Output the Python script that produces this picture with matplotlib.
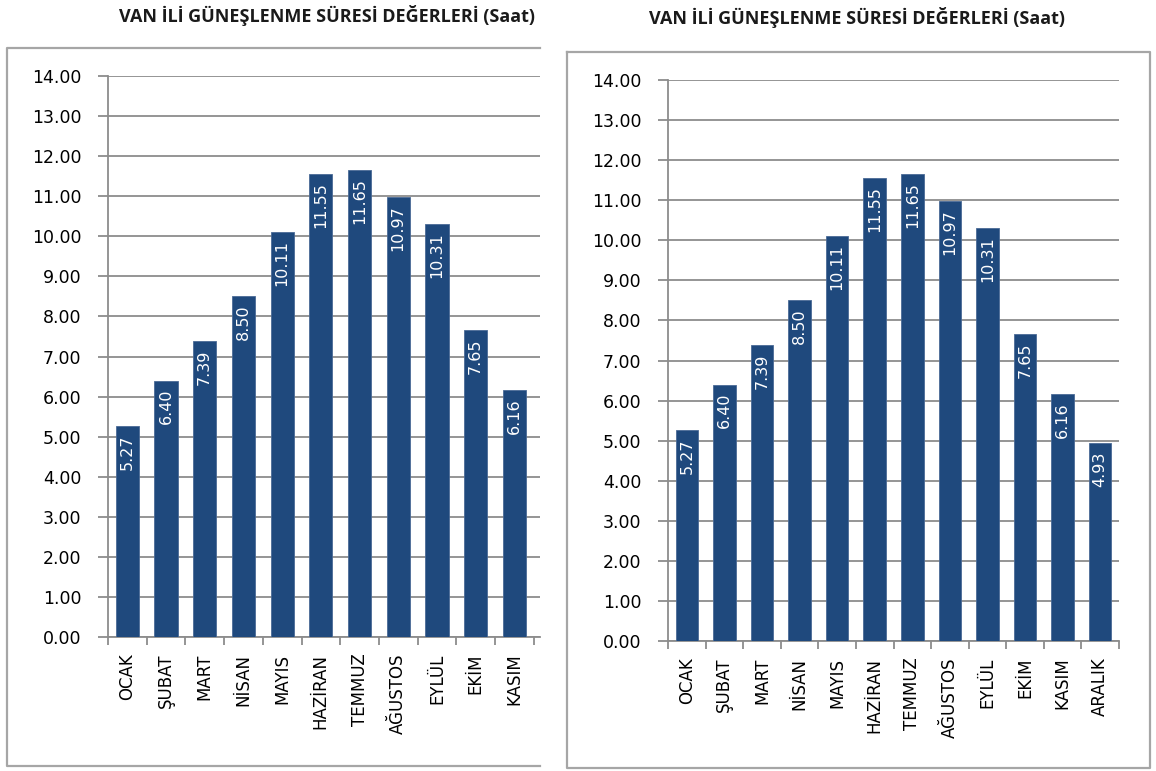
import numpy as np
import matplotlib.pyplot as plt
from matplotlib.lines import Line2D
from matplotlib.ticker import FixedLocator, FormatStrFormatter

# data
months = ["OCAK", "ŞUBAT", "MART", "NİSAN", "MAYIS", "HAZİRAN",
          "TEMMUZ", "AĞUSTOS", "EYLÜL", "EKİM", "KASIM", "ARALIK"]
sunshine = [5.27, 6.40, 7.39, 8.50, 10.11, 11.55,
            11.65, 10.97, 10.31, 7.65, 6.16, 4.93]
title = "VAN İLİ GÜNEŞLENME SÜRESİ DEĞERLERİ (Saat)"

BAR = "#1f497d"
GRID = "#8c8c8c"
W, H = 1156, 771

plt.rcParams["font.family"] = ["DejaVu Sans"]

fig = plt.figure(figsize=(W / 100, H / 100), dpi=100)


def px_rect(x0, y_top, x1, y_bot):
    return [x0 / W, 1 - y_bot / H, (x1 - x0) / W, (y_bot - y_top) / H]


def draw_chart(ax, xmax):
    x = np.arange(len(months))
    bars = ax.bar(x, sunshine, width=0.6, color=BAR,
                  edgecolor="#4a6a96", linewidth=0.6, zorder=3)
    for b, v in zip(bars, sunshine):
        if b.get_x() + b.get_width() / 2 > xmax:
            continue
        ax.annotate(f"{v:.2f}", (b.get_x() + b.get_width() / 2, v),
                    xytext=(0, -6), textcoords="offset points",
                    rotation=90, ha="center", va="top",
                    color="white", fontsize=11.5, zorder=4)

    ax.yaxis.set_major_locator(FixedLocator(np.arange(0, 15, 1)))
    ax.yaxis.set_major_formatter(FormatStrFormatter("%.2f"))
    ax.grid(axis="y", color=GRID, linewidth=1.3, zorder=0)
    ax.set_axisbelow(True)

    ax.set_xticks(x[x < xmax])
    ax.set_xticklabels([m for i, m in enumerate(months) if i < xmax],
                       rotation=90, fontsize=12)
    ax.set_xticks(np.arange(-0.5, len(months), 1.0), minor=True)
    ax.tick_params(axis="x", which="major", length=0, pad=12)
    ax.tick_params(axis="x", which="minor", length=6, width=1.3,
                   color=GRID, direction="out")
    ax.tick_params(axis="y", length=7, width=1.3, color=GRID,
                   labelsize=12.5, pad=12)

    # limits last, set_xticks would widen them
    ax.set_xlim(-0.5, xmax)
    ax.set_ylim(0, 14)

    for s in ["top", "right"]:
        ax.spines[s].set_visible(False)
    for s in ["left", "bottom"]:
        ax.spines[s].set_color(GRID)
        ax.spines[s].set_linewidth(1.3)


# left chart (cropped on the right)
ax1 = fig.add_axes(px_rect(108, 76, 540, 637))
draw_chart(ax1, -0.5 + 432 / 38.7)

# right chart
ax2 = fig.add_axes(px_rect(668, 80, 1119, 641))
draw_chart(ax2, 11.5)

# titles
fig.text(327 / W, 1 - 15 / H, title, ha="center", va="center",
         fontsize=13, fontweight="bold", family="Open Sans", color="#1a1a1a")
fig.text(857 / W, 1 - 18 / H, title, ha="center", va="center",
         fontsize=13, fontweight="bold", family="Open Sans", color="#1a1a1a")

# chart frames
fc = "#a6a6a6"
def fx(v):
    return v / W
def fy(v):
    return 1 - v / H
for xs, ys in [([540, 7, 7, 540], [48, 48, 766, 766]),
               ([567, 1150, 1150, 567, 567], [52, 52, 768, 768, 52])]:
    fig.add_artist(Line2D([fx(v) for v in xs], [fy(v) for v in ys],
                          color=fc, linewidth=1.6))

fig.savefig("out.png", dpi=100)
